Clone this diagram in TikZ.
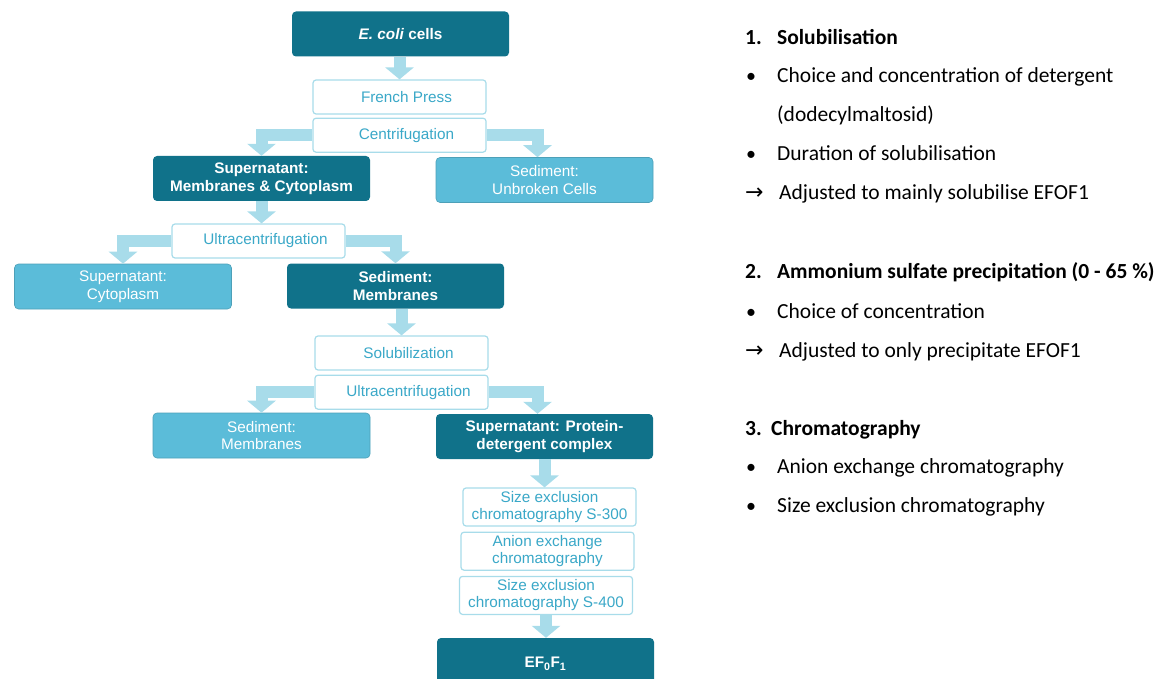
\documentclass[tikz,border=0pt]{standalone}
\usepackage{fontspec}
\setmainfont{Liberation Sans}
\newfontfamily\notefont{Carlito}
\newfontfamily\symfont{DejaVu Sans}
\usetikzlibrary{positioning,arrows.meta}
\definecolor{tealdark}{HTML}{10728A}
\definecolor{tealsoft}{HTML}{5BBCD9}
\definecolor{flowblue}{HTML}{A8DCEA}
\definecolor{steptext}{HTML}{3AA8C8}
\tikzset{
  darkbox/.style={rounded corners=4pt,fill=tealdark,text=white,align=center,
    font=\fontsize{15.3}{17.5}\selectfont\bfseries,minimum width=217pt,minimum height=45pt,inner sep=2pt},
  softbox/.style={rounded corners=4pt,fill=tealsoft,draw=tealsoft!85!black,line width=0.6pt,text=white,align=center,
    font=\fontsize{15.3}{17.5}\selectfont,minimum width=217pt,minimum height=45pt,inner sep=2pt},
  stepbox/.style={rounded corners=3pt,fill=white,draw=flowblue,line width=1.2pt,text=steptext,align=center,
    font=\fontsize{15.3}{17}\selectfont,minimum width=173pt,minimum height=34pt,inner sep=2pt},
  offtext/.style={execute at begin node=\hspace*{14pt}},
  flow/.style={draw=flowblue,line width=12pt,line join=miter,-{Triangle[length=12pt,width=28pt]}},
  note/.style={anchor=base west,inner sep=0pt,font=\notefont\fontsize{21.5}{24}\selectfont},
  notehead/.style={note,font=\notefont\bfseries\fontsize{21.5}{24}\selectfont}
}
\newcommand{\arrowmark}{\makebox[34pt][l]{\symfont\fontsize{22}{22}\selectfont →}}
\newcommand{\bulletmark}{\makebox[32pt][l]{\hspace*{1pt}\fontsize{20}{20}\selectfont\textbullet}}

\begin{document}
\begin{tikzpicture}[x=1pt,y=-1pt]
\useasboundingbox (0,0) rectangle (1164,679);

% flow chart
\node[darkbox] (cells) at (400.5,34) {\textit{E. coli} cells};
\node[stepbox, offtext] (press) at (399.5,97) {French Press};
\node[stepbox, offtext, below=3pt of press] (cent) {Centrifugation};
\node[darkbox] (supA) at (261.5,178.5) {Supernatant:\\Membranes \& Cytoplasm};
\node[softbox] (sedA) at (544.5,180) {Sediment:\\Unbroken Cells};
\node[stepbox, offtext] (ultraA) at (258.5,241) {Ultracentrifugation};
\node[softbox] (supB) at (123,286.5) {Supernatant:\\Cytoplasm};
\node[darkbox] (sedB) at (395.5,286) {Sediment:\\Membranes};
\node[stepbox, offtext] (solub) at (401.5,353) {Solubilization};
\node[stepbox, offtext, below=4pt of solub] (ultraB) {Ultracentrifugation};
\node[softbox] (sedC) at (261.5,435.5) {Sediment:\\Membranes};
\node[darkbox] (supC) at (544.5,436.5) {Supernatant: Protein-\\detergent complex};
\node[stepbox, minimum height=38pt] (secA) at (549.5,507) {Size exclusion\\chromatography S-300};
\node[stepbox, minimum height=38pt, below=5pt of secA, xshift=-2pt] (anion) {Anion exchange\\chromatography};
\node[stepbox, minimum height=38pt, below=5pt of anion, xshift=-1.5pt] (secB) {Size exclusion\\chromatography S-400};
\node[darkbox, minimum height=52pt] (prod) at (545.5,664) {EF\textsubscript{0}F\textsubscript{1}};

\draw[flow] (cells.south -| press.north) -- (press.north);
\draw[flow] (cent.west) -| (supA.north);
\draw[flow] (cent.east) -| ([xshift=-7pt]sedA.north);
\draw[flow] (supA.south) -- (supA.south |- ultraA.north);
\draw[flow] (ultraA.west) -| (supB.north);
\draw[flow] (ultraA.east) -| (sedB.north);
\draw[flow] (sedB.south -| solub.north) -- (solub.north);
\draw[flow] (ultraB.west) -| (sedC.north);
\draw[flow] (ultraB.east) -| ([xshift=-7pt]supC.north);
\draw[flow] (supC.south) -- (supC.south |- secA.north);
\draw[flow] (secB.south) -- (secB.south |- prod.north);

% notes
\node[notehead] (h1) at (745,45) {\makebox[32pt][l]{1.}Solubilisation};
\node[note] (n1) at (745,83) {\bulletmark Choice and concentration of detergent};
\node[note] (n2) at (777,122) {(dodecylmaltosid)};
\node[note] (n3) at (745,161) {\bulletmark Duration of solubilisation};
\node[note] (n4) at (745,200) {\arrowmark Adjusted to mainly solubilise EFOF1};
\node[notehead] (h2) at (745,278) {\makebox[32pt][l]{2.}Ammonium sulfate precipitation (0 - 65 \%)};
\node[note] (n5) at (745,318) {\bulletmark Choice of concentration};
\node[note] (n6) at (745,357) {\arrowmark Adjusted to only precipitate EFOF1};
\node[notehead] (h3) at (745,435) {\makebox[26pt][l]{3.}Chromatography};
\node[note] (n7) at (745,473) {\bulletmark Anion exchange chromatography};
\node[note] (n8) at (745,512) {\bulletmark Size exclusion chromatography};
\end{tikzpicture}
\end{document}
